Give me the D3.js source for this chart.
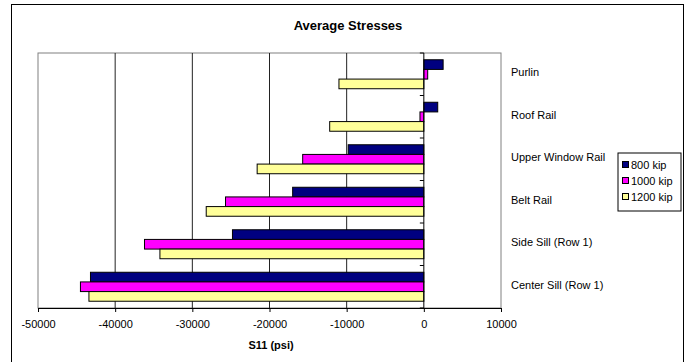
<!DOCTYPE html>
<html lang="en">
    <head>
        <meta charset="utf-8">
        <title>Average Stresses</title>
        <script src="https://d3js.org/d3.v7.min.js"></script>
        <style type="text/css">
            body {
                margin: 0;
                background: white;
            }
            text {
                font-family: "Liberation Sans", Arial, sans-serif;
            }
            .title {
                font-size: 13px;
                font-weight: bold;
            }
            .labels {
                font-size: 11px;
            }
        </style>
    </head>
    <body>
        <svg width="689" height="362"></svg>
        <script type="text/javascript">

            // data
            const categories = ["Purlin", "Roof Rail", "Upper Window Rail", "Belt Rail",
                                "Side Sill (Row 1)", "Center Sill (Row 1)"];
            const seriesNames = ["800 kip", "1000 kip", "1200 kip"];
            const s800  = [2500, 1800, -9800, -17000, -24800, -43200];
            const s1000 = [500, -500, -15700, -25700, -36200, -44500];
            const s1200 = [-11000, -12200, -21600, -28200, -34200, -43400];
            const xTicks = [-50000, -40000, -30000, -20000, -10000, 0, 10000];
            const colors = ["#000080", "#FF00FF", "#FFFF99"];

            const allSeries = [s800, s1000, s1200];
            const svg = d3.select("svg");

            // outer chart border
            svg.append("rect")
               .attr("x", 11.5).attr("y", 4.5)
               .attr("width", 672).attr("height", 370)
               .attr("fill", "white")
               .attr("stroke", "black");

            // plot area
            const plotL = 38, plotR = 501, plotT = 53, plotB = 308;

            const x = d3.scaleLinear()
                        .domain([-50000, 10000])
                        .range([plotL, plotR]);

            const y0 = d3.scaleBand()
                         .domain(categories)
                         .range([plotT, plotB]);

            const y1 = d3.scaleBand()
                         .domain(seriesNames)
                         .range([0, y0.bandwidth()])
                         .paddingOuter(0.7);

            svg.append("rect")
               .attr("x", plotL).attr("y", plotT)
               .attr("width", plotR - plotL).attr("height", plotB - plotT)
               .attr("fill", "white")
               .attr("stroke", "#808080");

            // gridlines
            svg.selectAll("line.grid")
               .data(xTicks.filter(t => t > -50000 && t < 0))
               .enter()
               .append("line")
               .attr("class", "grid")
               .attr("x1", d => x(d)).attr("x2", d => x(d))
               .attr("y1", plotT).attr("y2", plotB)
               .attr("stroke", "#222");

            // bars
            const rows = categories.map((c, i) => ({
                cat: c,
                vals: seriesNames.map((s, j) => ({ name: s, j: j, value: allSeries[j][i] }))
            }));

            const groups = svg.selectAll("g.cat")
                .data(rows)
                .enter()
                .append("g")
                .attr("class", "cat")
                .attr("transform", d => "translate(0," + y0(d.cat) + ")");

            groups.selectAll("rect")
                .data(d => d.vals)
                .enter()
                .append("rect")
                .attr("x", d => x(Math.min(0, d.value)))
                .attr("width", d => Math.abs(x(d.value) - x(0)))
                .attr("y", d => y1(d.name))
                .attr("height", y1.bandwidth())
                .attr("fill", d => colors[d.j])
                .attr("stroke", "black")
                .attr("stroke-width", 1);

            // vertical axis at zero with category ticks
            svg.append("line")
               .attr("x1", x(0)).attr("x2", x(0))
               .attr("y1", plotT).attr("y2", plotB)
               .attr("stroke", "black");

            svg.selectAll("line.ytick")
               .data(d3.range(categories.length + 1))
               .enter()
               .append("line")
               .attr("class", "ytick")
               .attr("x1", x(0) - 4).attr("x2", x(0))
               .attr("y1", i => plotT + i * y0.step())
               .attr("y2", i => plotT + i * y0.step())
               .attr("stroke", "black");

            // bottom axis, plain hyphen minus like the original
            const xAxis = d3.axisBottom(x)
                            .tickValues(xTicks)
                            .tickSize(4)
                            .tickFormat(d => String(d));

            const gx = svg.append("g")
               .attr("transform", "translate(0," + plotB + ")")
               .call(xAxis);
            gx.select(".domain").attr("stroke", "black");
            gx.selectAll("text")
              .attr("class", "labels")
              .attr("dy", "1.2em")
              .attr("fill", "black")
              .style("font-family", "Liberation Sans, Arial, sans-serif")
              .style("font-size", "11px");

            // category labels
            svg.selectAll("text.cat")
               .data(categories)
               .enter()
               .append("text")
               .attr("class", "labels")
               .attr("x", 511)
               .attr("y", d => y0(d) + y0.bandwidth() / 2 - 2)
               .attr("dy", "0.35em")
               .text(d => d);

            // titles
            svg.append("text")
               .attr("class", "title")
               .attr("x", 348).attr("y", 30)
               .attr("text-anchor", "middle")
               .text("Average Stresses");

            svg.append("text")
               .attr("x", 271).attr("y", 349)
               .attr("text-anchor", "middle")
               .style("font-size", "11px")
               .style("font-weight", "bold")
               .text("S11 (psi)");

            // legend
            const lg = svg.append("g").attr("transform", "translate(618,153)");
            lg.append("rect")
              .attr("width", 63).attr("height", 58)
              .attr("fill", "white").attr("stroke", "black");

            const items = lg.selectAll("g.item")
              .data(seriesNames)
              .enter()
              .append("g")
              .attr("transform", (d, i) => "translate(4," + (12 + i * 16) + ")");

            items.append("rect")
                 .attr("x", 0.5).attr("y", -3.5)
                 .attr("width", 6).attr("height", 6)
                 .attr("fill", (d, i) => colors[i])
                 .attr("stroke", "black");

            items.append("text")
                 .attr("class", "labels")
                 .attr("x", 9).attr("dy", "0.35em")
                 .text(d => d);

        </script>
    </body>
</html>
